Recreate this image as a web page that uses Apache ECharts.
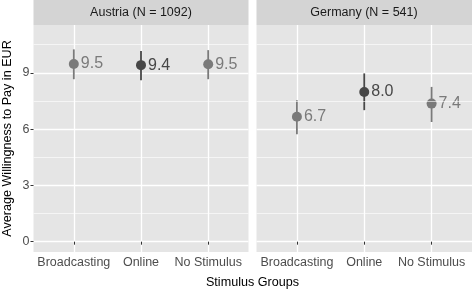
<!DOCTYPE html>
<html>
<head>
<meta charset="utf-8">
<script src="https://cdn.jsdelivr.net/npm/echarts@6/dist/echarts.min.js"></script>
<style>
html, body { margin: 0; padding: 0; background: #fff; }
#chart { width: 472px; height: 290px; }
</style>
</head>
<body>
<div id="chart"></div>
<script>
// data
var groups = ['Broadcasting', 'Online', 'No Stimulus'];
var panels = ['Austria (N = 1092)', 'Germany (N = 541)'];
var austriaMean = [9.47, 9.41, 9.46];
var austriaLow = [8.66, 8.61, 8.66];
var austriaHigh = [10.25, 10.16, 10.21];
var germanyMean = [6.66, 7.98, 7.36];
var germanyLow = [5.73, 7.01, 6.38];
var germanyHigh = [7.54, 8.97, 8.25];
var groupColors = ['#7a7a7a', '#474747', '#7a7a7a'];
var yTicks = [0, 3, 6, 9];
var yMinor = [1.5, 4.5, 7.5, 10.5];
var xTicks = [1, 2, 3];

var font = 'Liberation Sans, Arial, sans-serif';
var myChart = echarts.init(document.getElementById('chart'));

var grids = [
    { left: 33.5, top: 25, width: 215, height: 227 },
    { left: 256.5, top: 25, width: 215.5, height: 227 }
];

function makeX(i) {
    return {
        type: 'value', gridIndex: i, min: 0.4, max: 3.6,
        axisLine: { show: false },
        axisTick: { show: true, length: 3, customValues: xTicks, lineStyle: { color: '#333333', width: 1 } },
        axisLabel: {
            customValues: xTicks, margin: 4, color: '#4d4d4d', fontSize: 12.5, fontFamily: font,
            formatter: function (v) { return groups[Math.round(v) - 1]; }
        },
        splitLine: { show: true, lineStyle: { color: '#ffffff', width: 1.3 } }
    };
}

function makeY(i) {
    return {
        type: 'value', gridIndex: i, min: -0.55, max: 11.55,
        axisLine: { show: false },
        axisTick: { show: i === 0, length: 3, customValues: yTicks, lineStyle: { color: '#333333', width: 1 } },
        axisLabel: { show: i === 0, customValues: yTicks, margin: 4, color: '#4d4d4d', fontSize: 12.5, fontFamily: font },
        splitLine: { show: true, lineStyle: { color: '#ffffff', width: 1.3 } }
    };
}

function panelSeries(i, mean, low, high) {
    var barData = [], pointData = [];
    for (var k = 0; k < groups.length; k++) {
        barData.push({ value: [k + 1, low[k], high[k]], itemStyle: { color: groupColors[k] } });
        pointData.push({ value: [k + 1, mean[k]], itemStyle: { color: groupColors[k], opacity: 1 }, label: { color: groupColors[k] } });
    }
    return [
        {
            // minor grid lines
            type: 'line', xAxisIndex: i, yAxisIndex: i, data: [], z: 1,
            markLine: {
                silent: true, symbol: 'none', label: { show: false },
                lineStyle: { color: '#ffffff', width: 0.6, type: 'solid' },
                data: yMinor.map(function (v) { return { yAxis: v }; })
            }
        },
        {
            type: 'custom', xAxisIndex: i, yAxisIndex: i, z: 2,
            renderItem: function (params, api) {
                var x = api.value(0);
                var a = api.coord([x, api.value(1)]);
                var b = api.coord([x, api.value(2)]);
                return {
                    type: 'line',
                    shape: { x1: a[0], y1: a[1], x2: b[0], y2: b[1] },
                    style: { stroke: api.visual('color'), lineWidth: 1.8 }
                };
            },
            data: barData
        },
        {
            type: 'scatter', xAxisIndex: i, yAxisIndex: i, z: 3,
            symbolSize: 10,
            label: {
                show: true, position: 'right', distance: 2,
                fontSize: 16, fontFamily: font,
                formatter: function (p) { return p.value[1].toFixed(1); }
            },
            data: pointData
        }
    ];
}

var option = {
    animation: false,
    grid: grids.map(function (g) {
        return { left: g.left, top: g.top, width: g.width, height: g.height, show: true, backgroundColor: '#e5e5e5', borderWidth: 0 };
    }),
    xAxis: [makeX(0), makeX(1)],
    yAxis: [makeY(0), makeY(1)],
    graphic: [
        { type: 'rect', left: 33.5, top: 0, shape: { width: 215, height: 25 }, style: { fill: '#d4d4d4' } },
        { type: 'rect', left: 256.5, top: 0, shape: { width: 215.5, height: 25 }, style: { fill: '#d4d4d4' } },
        { type: 'text', x: 141, y: 13, style: { text: panels[0], fill: '#1a1a1a', font: '12.5px ' + font, align: 'center', verticalAlign: 'middle' } },
        { type: 'text', x: 364, y: 13, style: { text: panels[1], fill: '#1a1a1a', font: '12.5px ' + font, align: 'center', verticalAlign: 'middle' } },
        { type: 'text', x: 252.5, y: 283, style: { text: 'Stimulus Groups', fill: '#000000', font: '12.6px ' + font, align: 'center', verticalAlign: 'middle' } },
        { type: 'text', x: 7.5, y: 138.5, rotation: Math.PI / 2, style: { text: 'Average Willingness to Pay in EUR', fill: '#000000', font: '12.6px ' + font, align: 'center', verticalAlign: 'middle' } }
    ],
    series: panelSeries(0, austriaMean, austriaLow, austriaHigh)
        .concat(panelSeries(1, germanyMean, germanyLow, germanyHigh))
};
myChart.setOption(option);
</script>
</body>
</html>
